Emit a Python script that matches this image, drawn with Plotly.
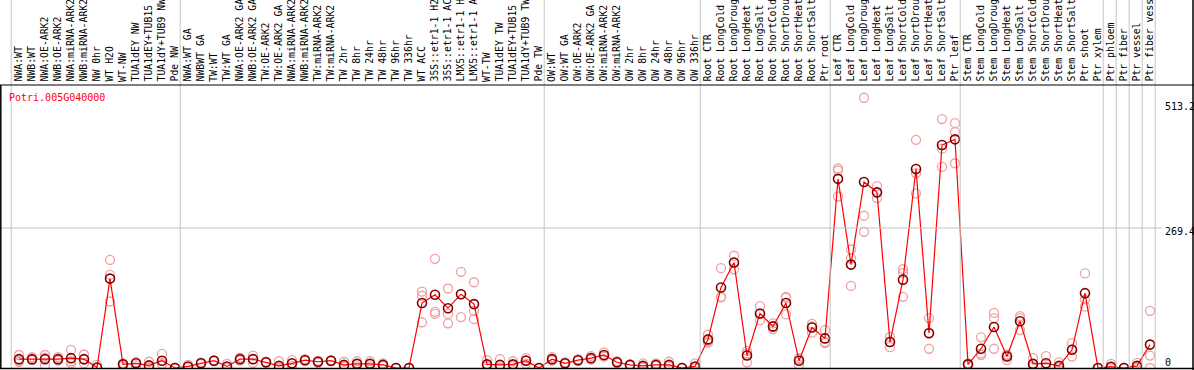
import plotly.graph_objects as go

categories = [
    "NWA:WT", "NWB:WT", "NWA:OE-ARK2", "NWB:OE-ARK2", "NWA:miRNA-ARK2", "NWB:miRNA-ARK2",
    "NW 0hr", "WT H2O", "WT-NW", "TUA1dEY NW", "TUA1dEY+TUB15 NW", "TUA1dY+TUB9 NW", "Pde NW",
    "NWA:WT GA", "NWBWT GA", "TW:WT", "TW:WT GA", "NWA:OE-ARK2 GA", "NWB:OE-ARK2 GA",
    "TW:OE-ARK2", "TW:OE-ARK2 GA", "NWA:miRNA-ARK2 GA", "NWB:miRNA-ARK2 GA", "TW:miRNA-ARK2",
    "TW:miRNA-ARK2 GA", "TW 2hr", "TW 8hr", "TW 24hr", "TW 48hr", "TW 96hr", "TW 336hr",
    "WT ACC", "35S::etr1-1 H2O", "35S::etr1-1 ACC", "LMX5::etr1-1 H2O", "LMX5::etr1-1 ACC",
    "WT-TW", "TUA1dEY TW", "TUA1dEY+TUB15 TW", "TUA1dY+TUB9 TW", "Pde TW",
    "OW:WT", "OW:WT GA", "OW:OE-ARK2", "OW:OE-ARK2 GA", "OW:miRNA-ARK2", "OW:miRNA-ARK2 GA",
    "OW 2hr", "OW 8hr", "OW 24hr", "OW 48hr", "OW 96hr", "OW 336hr",
    "Root CTR", "Root LongCold", "Root LongDrought", "Root LongHeat", "Root LongSalt",
    "Root ShortCold", "Root ShortDrought", "Root ShortHeat", "Root ShortSalt", "Ptr root",
    "Leaf CTR", "Leaf LongCold", "Leaf LongDrought", "Leaf LongHeat", "Leaf LongSalt",
    "Leaf ShortCold", "Leaf ShortDrought", "Leaf ShortHeat", "Leaf ShortSalt", "Ptr leaf",
    "Stem CTR", "Stem LongCold", "Stem LongDrought", "Stem LongHeat", "Stem LongSalt",
    "Stem ShortCold", "Stem ShortDrought", "Stem ShortHeat", "Stem ShortSalt", "Ptr shoot",
    "Ptr xylem", "Ptr phloem", "Ptr fiber", "Ptr vessel", "Ptr fiber vessel",
]

mean_values = [
    17, 17, 17, 17, 19, 17, 1, 172, 7, 9, 5, 14, 0,
    3, 9, 14, 3, 17, 17, 11, 4, 9, 15, 12, 14, 6, 8, 8, 6, 0, 0,
    125, 141, 115, 142, 123, 7, 6, 7, 14, 0,
    17, 9, 15, 19, 25, 11, 6, 4, 6, 6, 0, 3,
    55, 155, 203, 24, 105, 80, 125, 14, 78, 57,
    364, 199, 358, 338, 50, 170, 383, 67, 429, 440,
    7, 37, 79, 22, 90, 8, 9, 4, 35, 144,
    0, 2.5, 0, 4, 45,
]

rep1 = [
    25, 21, 25, 21, 35, 26, 6, 208, 9, 11, 12, 27, 0,
    6, 11, 15, 8, 20, 24, 12, 13, 15, 17, 10, 13, 12, 13, 13, 9, 0, 0,
    147, 210, 153, 185, 165, 15, 17, 13, 19, 0,
    21, 11, 17, 23, 30, 13, 7, 9, 9, 12, 0, 9,
    64, 192, 216, 33, 119, 86, 137, 6, 85, 73,
    384, 228, 520, 350, 60, 190, 439, 96, 479, 471,
    9, 59, 106, 26, 100, 19, 23, 11, 48, 182,
    0, 8, 0, 10, 110,
]

rep2 = [
    12, 15, 6, 14, 9, 9, 0, 179, 3, 5, 2, 8, 0,
    1, 8, 13, 0, 14, 10, 10, 0, 4, 14, 12, 14, 3, 3, 3, 4, 0, 0,
    139, 108, 104, 142, 110, 3, 1, 3, 8, 0,
    14, 8, 14, 16, 22, 10, 5, 1, 4, 3, 0, 0,
    52, 137, 203, 28, 104, 79, 135, 17, 80, 50,
    380, 211, 293, 337, 50, 183, 375, 68, 422, 454,
    6, 28, 96, 24, 96, 3, 2, 0, 36, 132,
    0, 0, 0, 1, 24,
]

rep3 = [
    14, 15, 20, 16, 13, 16, 0, 128, 9, 11, 1, 7, 0,
    2, 8, 14, 1, 17, 17, 11, 0, 8, 14, 14, 15, 3, 8, 8, 5, 0, 0,
    88, 104, 86, 98, 94, 3, 0, 5, 15, 0,
    16, 8, 14, 18, 23, 10, 6, 2, 5, 3, 0, 0,
    49, 136, 190, 11, 92, 75, 103, 19, 68, 48,
    330, 158, 262, 327, 40, 137, 336, 37, 387, 394,
    6, 25, 37, 15, 73, 2, 2, 1, 22, 118,
    0, 0, 0, 1, 0,
]

gene_label = "Potri.005G040000"
y_tick_values = [513.2, 269.4, 0]
y_tick_labels = ["513.2", "269.4", "0"]
# group boundaries: index of the last category in each block
group_ends = [-1, 12, 40, 52, 62, 72, 83, 84, 85, 86, 87]
LABEL_CHARS = 14  # the label strip only shows this many characters

W, H = 1194, 370
X0, DX = 19.0, 13.0          # pixel of first category, pixel step
Y0, SY = 368.0, 0.5197       # pixel of value 0, pixels per unit
LABEL_BOTTOM = 85            # pixel row where label strip ends
PLOT_BOTTOM_PX = 369
idx = list(range(len(categories)))


def px_to_x(px):
    return (px - X0) / DX


def py_to_v(py):
    return (Y0 - py) / SY


fig = go.Figure()

rx, ry = [], []
for reps in (rep1, rep2, rep3):
    rx += idx
    ry += reps
fig.add_trace(go.Scatter(
    x=rx, y=ry, mode="markers",
    marker=dict(symbol="circle-open", size=9, color="#f0a0a0", line=dict(width=1.3)),
    hoverinfo="skip"))

fig.add_trace(go.Scatter(
    x=idx, y=mean_values, mode="lines",
    line=dict(color="#ff0000", width=1.2), hoverinfo="skip"))

fig.add_trace(go.Scatter(
    x=idx, y=mean_values, mode="markers",
    marker=dict(symbol="circle-open", size=9, color="#800000", line=dict(width=1.6)),
    text=categories, hovertemplate="%{text}: %{y}<extra></extra>"))

shapes = []
for g in group_ends:
    shapes.append(dict(type="line", xref="x", yref="paper",
                       x0=g + 0.4, x1=g + 0.4, y0=(H - PLOT_BOTTOM_PX) / H, y1=1,
                       line=dict(color="#c4c4c4", width=1)))
shapes.append(dict(type="line", xref="paper", yref="y",
                   x0=0, x1=1162 / W, y0=y_tick_values[1], y1=y_tick_values[1],
                   line=dict(color="#c4c4c4", width=1)))
# borders
shapes.append(dict(type="line", xref="paper", yref="paper",
                   x0=0, x1=1, y0=1 - LABEL_BOTTOM / H, y1=1 - LABEL_BOTTOM / H,
                   line=dict(color="black", width=1.2)))
shapes.append(dict(type="line", xref="paper", yref="paper",
                   x0=0, x1=1, y0=(H - 368.5) / H, y1=(H - 368.5) / H,
                   line=dict(color="black", width=1.5)))
shapes.append(dict(type="line", xref="paper", yref="paper",
                   x0=0.8 / W, x1=0.8 / W, y0=(H - 369) / H, y1=1 - LABEL_BOTTOM / H,
                   line=dict(color="black", width=1.5)))
shapes.append(dict(type="line", xref="paper", yref="paper",
                   x0=1193 / W, x1=1193 / W, y0=0, y1=1,
                   line=dict(color="black", width=1.5)))

annotations = []
for i, c in enumerate(categories):
    annotations.append(dict(
        x=i, xref="x", y=1 - (LABEL_BOTTOM - 1) / H, yref="paper",
        text=c[:LABEL_CHARS], textangle=-90, showarrow=False,
        xanchor="center", yanchor="bottom", xshift=-1,
        font=dict(family="DejaVu Sans Mono", size=9.8, color="black")))

annotations.append(dict(
    x=7 / W, xref="paper", y=1 - 97 / H, yref="paper", text=gene_label,
    showarrow=False, xanchor="left", yanchor="middle",
    font=dict(family="DejaVu Sans Mono", size=10, color="#ff0000")))

yshifts = [-5, -4, 6]
for v, t, s in zip(y_tick_values, y_tick_labels, yshifts):
    annotations.append(dict(
        x=1163 / W, xref="paper", y=v, yref="y", yshift=s, text=t,
        showarrow=False, xanchor="left", yanchor="middle",
        font=dict(family="DejaVu Sans Mono", size=10, color="black")))

fig.update_layout(
    width=W, height=H,
    margin=dict(l=0, r=0, t=0, b=0),
    paper_bgcolor="white", plot_bgcolor="white",
    showlegend=False,
    shapes=shapes, annotations=annotations,
    xaxis=dict(range=[px_to_x(0), px_to_x(W)], domain=[0, 1],
               showgrid=False, zeroline=False, showticklabels=False, ticks=""),
    yaxis=dict(range=[py_to_v(PLOT_BOTTOM_PX), py_to_v(LABEL_BOTTOM)],
               domain=[(H - PLOT_BOTTOM_PX) / H, 1 - LABEL_BOTTOM / H],
               showgrid=False, zeroline=False, showticklabels=False, ticks=""),
)

fig.write_html(
    "out.html",
    config={"displayModeBar": False},
    post_script="document.body.style.margin='0';document.body.style.overflow='hidden';",
)
